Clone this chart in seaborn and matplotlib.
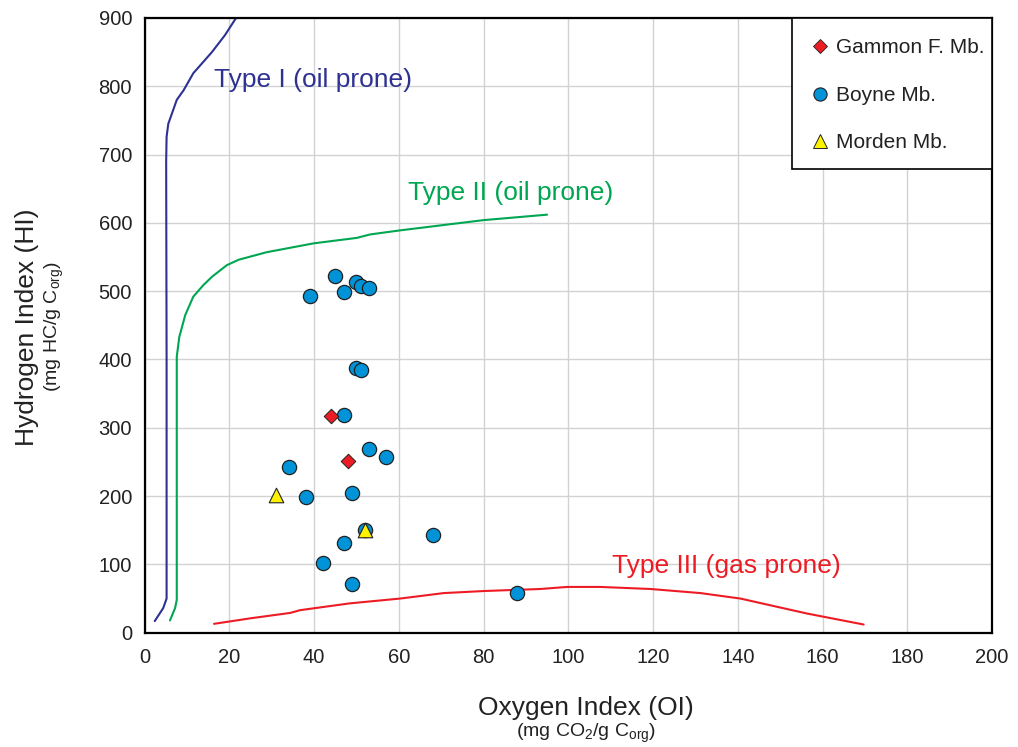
import matplotlib
matplotlib.use("Agg")
import matplotlib.pyplot as plt
from matplotlib.lines import Line2D
from matplotlib.patches import Rectangle
import numpy as np
import pandas as pd
import seaborn as sns

# Kerogen type boundary curves (OI, HI)
type1_oi = [2.4, 4.4, 5.2, 5.2, 5.1, 5.2, 5.6, 7.6, 9.2, 11.5, 15.9, 19.0, 21.6]
type1_hi = [17, 36, 50, 400, 690, 726, 745, 780, 794, 819, 850, 875, 900]

type2_oi = [6.0, 7.2, 7.6, 7.6, 8.2, 9.6, 11.5, 13.9, 15.9, 19.4, 22.2, 28.8,
            39.9, 50.1, 53.2, 60.3, 80.0, 95.0]
type2_hi = [18, 36, 48, 404, 433, 465, 492, 509, 521, 538, 546, 557,
            570, 578, 583, 589, 604, 612]

type3_oi = [16.4, 24.9, 34.4, 36.7, 48.5, 60.3, 70.6, 80.0, 93.4, 99.7, 107.6,
            119.4, 131.2, 140.6, 148.5, 156.4, 169.7]
type3_hi = [13, 21, 29, 33, 43, 50, 58, 61, 64, 67, 67,
            64, 58, 50, 39, 28, 12]

# Samples
boyne_oi = [45, 39, 47, 50, 51, 53, 50, 51, 47, 53, 57, 34, 38, 49, 52, 68, 47, 42, 49, 88]
boyne_hi = [522, 493, 499, 513, 508, 504, 387, 384, 319, 269, 257, 242, 199, 205, 150, 143, 132, 102, 71, 58]

gammon_oi = [44, 48]
gammon_hi = [317, 251]

morden_oi = [31, 52]
morden_hi = [201, 151]

sns.set_style("white")
plt.rcParams['font.family'] = ['Liberation Sans', 'DejaVu Sans']
plt.rcParams['mathtext.fontset'] = 'custom'
plt.rcParams['mathtext.rm'] = 'Liberation Sans'
plt.rcParams['mathtext.it'] = 'Liberation Sans'

fig = plt.figure(figsize=(10.18, 7.47), dpi=100)
ax = fig.add_axes([0.142, 0.153, 0.8325, 0.823])

# Curves
curve_style = dict(sort=False, estimator=None, linewidth=1.5, ax=ax, legend=False)
sns.lineplot(x=type1_oi, y=type1_hi, color='#2e3192', **curve_style)
sns.lineplot(x=type2_oi, y=type2_hi, color='#00a651', **curve_style)
sns.lineplot(x=type3_oi, y=type3_hi, color='#ed1c24', **curve_style)

ax.text(16.4, 809, 'Type I (oil prone)', color='#2e3192', fontsize=19, va='center')
ax.text(62.2, 643, 'Type II (oil prone)', color='#00a651', fontsize=19, va='center')
ax.text(110.2, 98, 'Type III (gas prone)', color='#ed1c24', fontsize=19, va='center')

# Points
sns.scatterplot(x=boyne_oi, y=boyne_hi, marker='o', s=105, color='#0093d8',
                edgecolor='#222222', linewidth=0.9, ax=ax, zorder=3)
sns.scatterplot(x=gammon_oi, y=gammon_hi, marker='D', s=55, color='#ed1c24',
                edgecolor='#222222', linewidth=0.7, ax=ax, zorder=4)
sns.scatterplot(x=morden_oi, y=morden_hi, marker='^', s=110, color='#fff200',
                edgecolor='#222222', linewidth=0.8, ax=ax, zorder=4)

ax.set_xlim(0, 200)
ax.set_ylim(0, 900)
ax.set_xticks(np.arange(0, 201, 20))
ax.set_yticks(np.arange(0, 901, 100))
ax.grid(True, color='#d2d2d2', linewidth=1.0)
ax.set_axisbelow(True)
for sp in ax.spines.values():
    sp.set_color('black')
    sp.set_linewidth(1.6)
ax.tick_params(axis='both', labelsize=14.5, length=4, colors='#222222', pad=5)
ax.tick_params(axis='both', color='#c8c8c8')
ax.tick_params(axis='x', pad=7)

# Axis labels with units underneath
fig.text(0.576, 0.052, 'Oxygen Index (OI)', fontsize=19, ha='center', va='center',
         color='#222222')
fig.text(0.576, 0.018, r'(mg CO$_2$/g C$_{\mathrm{org}}$)', fontsize=14,
         ha='center', va='center', color='#222222')
fig.text(0.027, 0.562, 'Hydrogen Index (HI)', fontsize=19, ha='center',
         va='center', rotation=90, color='#222222')
fig.text(0.053, 0.562, r'(mg HC/g C$_{\mathrm{org}}$)', fontsize=14,
         ha='center', va='center', rotation=90, color='#222222')

# Legend box drawn separately so the padding can match the reference
box = Rectangle((0.764, 0.7545), 0.236, 0.2455, transform=ax.transAxes,
                facecolor='white', edgecolor='black', linewidth=1.2,
                clip_on=False, zorder=5)
ax.add_patch(box)

handles = [
    Line2D([], [], marker='D', linestyle='', markersize=7, markerfacecolor='#ed1c24',
           markeredgecolor='#222222', markeredgewidth=0.6),
    Line2D([], [], marker='o', linestyle='', markersize=9.5, markerfacecolor='#0093d8',
           markeredgecolor='#222222', markeredgewidth=0.8),
    Line2D([], [], marker='^', linestyle='', markersize=9.5, markerfacecolor='#fff200',
           markeredgecolor='#222222', markeredgewidth=0.7),
]
labels = ['Gammon F. Mb.', 'Boyne Mb.', 'Morden Mb.']
leg = ax.legend(handles, labels, loc='center left', bbox_to_anchor=(0.782, 0.874),
                fontsize=15, frameon=False, borderpad=0, labelspacing=1.37,
                handletextpad=0.2, handlelength=1.2, borderaxespad=0,
                labelcolor='#222222')
leg.set_zorder(6)

fig.savefig('out.png', dpi=100)
